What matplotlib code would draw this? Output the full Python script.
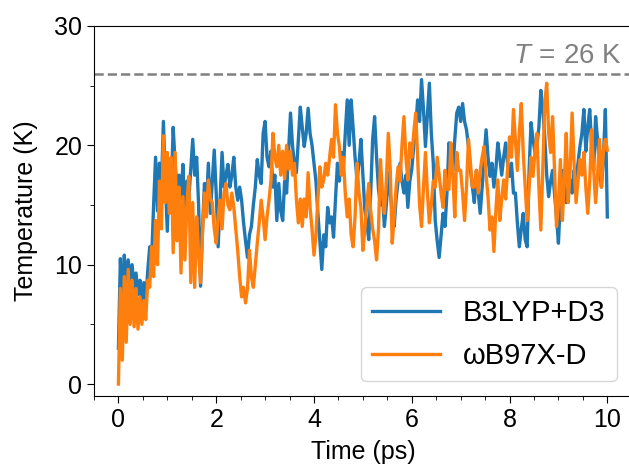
import numpy as np
import matplotlib
matplotlib.use("Agg")
import matplotlib.pyplot as plt
from matplotlib.ticker import MultipleLocator

b3lyp = [
    3.0, 10.5, 6.5, 10.8, 8.0, 10.4, 8.5, 10.0, 8.0, 9.3, 7.5, 8.7, 6.5, 8.5, 7.0, 9.5, 11.5, 10.5, 15.0, 19.0, 14.5, 18.5, 16.5, 22.0, 17.0,
    12.8, 18.0, 16.0, 21.5, 18.5, 16.0, 17.5, 15.5, 18.4, 13.8, 17.0, 15.5, 18.0, 20.5, 17.5, 19.0, 15.0, 8.2, 13.0, 16.8, 15.0, 18.5, 14.3, 17.0, 19.6,
    16.0, 11.5, 15.5, 19.4, 16.5, 17.5, 18.4, 16.5, 17.5, 19.0, 16.5, 15.4, 16.5, 15.4, 13.5, 12.0, 10.6, 12.5, 13.2, 15.0, 16.5, 18.8, 17.5, 16.8, 21.0,
    22.0, 19.0, 18.2, 19.5, 16.5, 17.5, 13.7, 16.8, 14.5, 13.7, 17.0, 16.0, 19.5, 22.7, 20.0, 18.5, 17.7, 20.5, 23.2, 21.5, 19.9, 21.0, 23.1, 21.0, 20.0,
    18.5, 17.0, 14.3, 12.0, 9.6, 12.5, 11.5, 14.8, 13.5, 14.0, 12.3, 15.5, 18.5, 17.0, 19.4, 18.0, 21.0, 23.8, 20.0, 23.8, 21.5, 19.0, 17.1, 18.5, 20.5,
    17.5, 14.6, 13.5, 12.1, 16.0, 20.5, 22.4, 19.0, 16.3, 15.0, 16.0, 13.2, 15.0, 17.7, 16.0, 14.5, 13.2, 15.5, 17.0, 18.5, 17.0, 16.0, 17.5, 14.8, 17.0,
    18.0, 19.9, 21.5, 23.8, 22.0, 25.5, 23.0, 19.9, 22.5, 25.2, 21.0, 18.5, 13.7, 12.0, 10.6, 12.5, 14.3, 13.2, 16.0, 20.2, 18.5, 17.9, 20.5, 22.7, 23.2,
    22.0, 23.5, 22.0, 21.3, 19.9, 18.0, 16.5, 15.2, 17.9, 16.0, 14.3, 16.5, 19.0, 21.3, 19.0, 17.4, 18.5, 16.5, 18.0, 20.2, 19.0, 17.5, 19.0, 20.2, 18.5,
    17.4, 18.5, 16.0, 16.0, 13.5, 11.5, 13.0, 14.3, 12.1, 11.5, 17.9, 21.9, 20.5, 19.4, 20.0, 21.5, 24.6, 23.0, 20.7, 17.5, 15.7, 17.0, 17.9, 16.0, 14.0,
    11.8, 15.5, 17.9, 16.5, 15.2, 16.5, 17.1, 16.0, 17.9, 17.0, 18.5, 19.9, 21.0, 23.0, 19.5, 21.5, 23.0, 20.0, 17.9, 22.4, 20.5, 18.0, 16.5, 19.0, 23.0,
    14.0,
]
wb97xd = [
    0.0, 8.0, 2.0, 9.0, 3.5, 9.6, 5.0, 8.7, 4.8, 8.0, 4.6, 7.3, 5.0, 7.0, 5.4, 8.7, 8.1, 11.5, 9.0, 13.7, 10.0, 17.0, 13.0, 20.8, 15.2,
    19.4, 14.3, 19.0, 11.0, 19.4, 12.0, 16.5, 9.3, 15.7, 10.4, 15.0, 17.4, 8.5, 15.2, 8.1, 14.0, 11.0, 8.5, 12.7, 16.0, 14.0, 17.1, 15.5, 15.2, 13.0,
    11.8, 14.0, 15.4, 13.0, 16.0, 16.8, 15.0, 14.6, 16.0, 14.8, 13.0, 11.2, 9.0, 7.3, 8.1, 6.8, 8.0, 11.2, 9.0, 8.1, 10.0, 11.8, 13.5, 15.4, 14.0,
    12.1, 14.0, 15.4, 17.0, 21.0, 19.0, 18.2, 20.0, 17.5, 19.5, 17.2, 20.0, 18.0, 19.5, 17.5, 18.5, 15.5, 13.5, 15.5, 13.2, 15.5, 14.0, 17.7, 14.8, 13.0,
    10.8, 12.5, 15.5, 18.2, 16.5, 17.1, 18.5, 17.5, 19.0, 20.5, 19.0, 23.4, 21.0, 19.9, 17.5, 19.0, 16.0, 14.0, 15.5, 12.5, 11.5, 14.0, 18.5, 16.0, 14.8,
    11.2, 13.0, 15.0, 16.8, 14.5, 13.0, 12.0, 10.4, 13.0, 18.8, 16.0, 14.3, 17.0, 21.0, 18.0, 11.8, 14.0, 16.5, 18.2, 17.0, 20.0, 22.4, 19.0, 17.1, 20.2,
    19.0, 21.0, 22.7, 19.0, 15.0, 13.2, 16.5, 19.4, 16.0, 13.5, 15.0, 17.0, 16.5, 19.0, 17.5, 16.0, 14.8, 17.9, 16.3, 16.3, 20.2, 17.5, 14.0, 19.4, 17.9,
    17.9, 16.0, 13.7, 16.5, 20.5, 18.5, 16.5, 16.5, 17.9, 16.0, 17.9, 19.0, 19.9, 17.5, 15.7, 12.9, 14.0, 11.1, 14.5, 17.1, 13.7, 15.5, 17.1, 15.5, 18.0,
    20.7, 19.0, 23.0, 20.5, 17.9, 21.0, 23.5, 19.4, 16.5, 13.7, 16.5, 19.0, 17.4, 19.5, 21.0, 16.5, 12.9, 18.0, 23.5, 25.2, 21.0, 19.4, 22.4, 18.0, 13.2,
    15.0, 18.8, 13.7, 17.0, 21.0, 15.2, 18.0, 22.7, 18.5, 15.2, 17.0, 18.8, 17.5, 19.4, 16.5, 14.3, 17.0, 21.3, 18.0, 15.2, 17.5, 20.5, 16.5, 19.6, 20.5,
    19.6,
]
time = np.linspace(0, 10, len(b3lyp))
T_target = 26

plt.rcParams['font.family'] = ['Liberation Sans', 'DejaVu Sans']
plt.rcParams['mathtext.fontset'] = 'custom'
plt.rcParams['mathtext.it'] = 'Liberation Sans:italic'
plt.rcParams['mathtext.rm'] = 'Liberation Sans'

fig = plt.figure(figsize=(6.29, 4.69), dpi=100)
ax = fig.add_axes([0.1494, 0.1557, 0.855, 0.789])

ax.plot(time, b3lyp, color='#1f77b4', lw=2.4, label='B3LYP+D3')
ax.plot(time, wb97xd, color='#ff7f0e', lw=2.4, label='ωB97X-D')
ax.axhline(T_target, color='gray', ls='--', lw=1.8)
ax.text(10.3, T_target + 0.4, r'$T\,=\,%d$ K' % T_target, color='gray',
        fontsize=20, ha='right', va='bottom')

ax.set_xlim(-0.5, 10.5)
ax.set_ylim(-1, 30)
ax.xaxis.set_major_locator(MultipleLocator(2))
ax.xaxis.set_minor_locator(MultipleLocator(0.5))
ax.yaxis.set_major_locator(MultipleLocator(10))
ax.yaxis.set_minor_locator(MultipleLocator(5))
ax.tick_params(which='major', labelsize=18, length=5)
ax.tick_params(which='minor', length=3)
ax.set_xlabel('Time (ps)', fontsize=18, labelpad=6)
ax.set_ylabel('Temperature (K)', fontsize=18, labelpad=12)

ax.legend(loc='lower right', fontsize=21, handlelength=2.3)

fig.savefig('out.png', dpi=100)
